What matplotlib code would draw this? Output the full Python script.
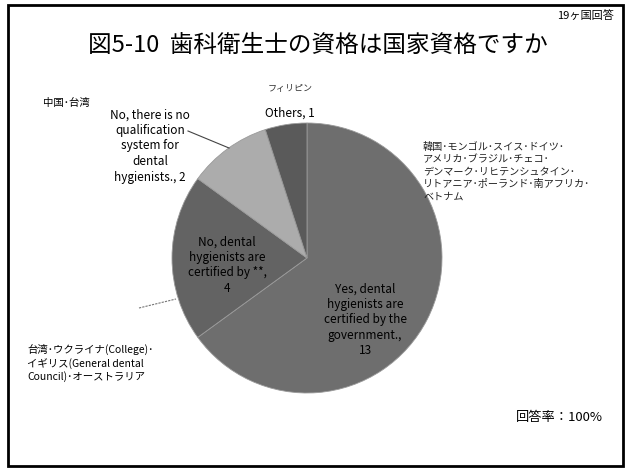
import matplotlib
matplotlib.use("Agg")
import matplotlib.pyplot as plt
from matplotlib.patches import Rectangle

plt.rcParams['font.family'] = ['Noto Sans CJK JP', 'DejaVu Sans']

# data
categories = ["Yes, dental\nhygienists are\ncertified by the\ngovernment.,\n13",
              "No, dental\nhygienists are\ncertified by **,\n4",
              "No, there is no\nqualification\nsystem for\ndental\nhygienists., 2",
              "Others, 1"]
counts = [13, 4, 2, 1]
colors = ["#6e6e6e", "#636363", "#acacac", "#5a5a5a"]

title = "図5-10  歯科衛生士の資格は国家資格ですか"
yes_countries = ["韓国･モンゴル･スイス･ドイツ･",
                 "アメリカ･ブラジル･チェコ･",
                 "デンマーク･リヒテンシュタイン･",
                 "リトアニア･ポーランド･南アフリカ･",
                 "ベトナム"]
cert_countries = ["台湾･ウクライナ(College)･",
                  "イギリス(General dental",
                  "Council)･オーストラリア"]
nosys_countries = "中国･台湾"
other_countries = "フィリピン"

W, H = 626, 468
fig = plt.figure(figsize=(W / 100, H / 100), dpi=100)

def fx(x):
    return x / W

def fy(y):
    return 1 - y / H

# pie, centre about (307, 258) px, radius ~135 px
ax = fig.add_axes([fx(307 - 135), fy(258 + 135), 270 / W, 270 / H])
ax.pie(counts, colors=colors, startangle=90, counterclock=False,
       wedgeprops=dict(edgecolor="#9a9a9a", linewidth=0.6))
ax.set_xlim(-1, 1)
ax.set_ylim(-1, 1)
ax.set_aspect("equal")
ax.axis("off")

# outer frame
fig.patches.append(Rectangle((fx(8), fy(466)), fx(615), 461 / H, transform=fig.transFigure,
                             fill=False, edgecolor="black", linewidth=2))

fig.text(fx(318), fy(45), title, ha="center", va="center", fontsize=17)
fig.text(fx(614), fy(16), "19ヶ国回答", ha="right", va="center", fontsize=8)
fig.text(fx(603), fy(418), "回答率：100%", ha="right", va="center", fontsize=9.5)

# slice labels
lab = dict(ha="center", va="center", fontsize=8.5, linespacing=1.25)
fig.text(fx(365), fy(320), categories[0], **lab)
fig.text(fx(227), fy(265), categories[1], **lab)
fig.text(fx(150), fy(146), categories[2], **lab)
fig.text(fx(290), fy(113), categories[3], **lab)

# country notes
fig.text(fx(290), fy(88), other_countries, ha="center", va="center", fontsize=6.5, color="#333333")
fig.text(fx(43), fy(103), nosys_countries, ha="left", va="center", fontsize=7.5)
fig.text(fx(423), fy(142), "\n".join(yes_countries), ha="left", va="top", fontsize=7.3,
         linespacing=1.3, color="#222222")
fig.text(fx(27), fy(344), "\n".join(cert_countries), ha="left", va="top", fontsize=7.5,
         linespacing=1.3)

# leader lines
fig.add_artist(plt.Line2D([fx(188), fx(229)], [fy(131), fy(148)], color="#444444", linewidth=0.8))
fig.add_artist(plt.Line2D([fx(139), fx(176)], [fy(308), fy(299)], color="#777777",
                          linewidth=0.8, linestyle=(0, (2, 1))))

fig.savefig("out.png", dpi=100, facecolor="white")
